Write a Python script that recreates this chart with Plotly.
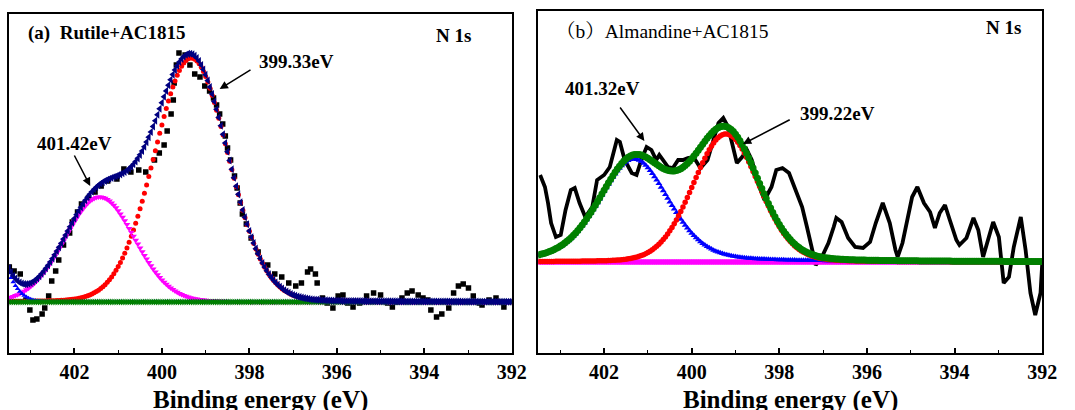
import numpy as np
import plotly.graph_objects as go

# ---------------- (a) Rutile + AC1815 : raw N 1s spectrum ----------------
rutile_energy = [
    403.49, 403.38, 403.24, 403.11, 403.02, 402.95, 402.86, 402.74, 402.68, 402.59,
    402.52, 402.43, 402.36, 402.25, 402.11, 402.05, 401.93, 401.84, 401.68, 401.53,
    401.39, 401.24, 401.03, 400.87, 400.71, 400.53, 400.37, 400.17, 400.06, 399.95,
    399.88, 399.79, 399.74, 399.72, 399.67, 399.61, 399.47, 399.36, 399.25, 399.13,
    399.02, 398.91, 398.82, 398.75, 398.68, 398.61, 398.55, 398.50, 398.43, 398.34,
    398.28, 398.21, 398.16, 398.07, 397.96, 397.80, 397.58, 397.42, 397.26, 397.10,
    396.94, 396.81, 396.67, 396.60, 396.49, 396.45, 396.33, 396.22, 396.09, 395.97,
    395.86, 395.75, 395.63, 395.48, 395.32, 395.16, 395.00, 394.84, 394.73, 394.62,
    394.51, 394.39, 394.28, 394.14, 394.03, 393.92, 393.85, 393.72, 393.60, 393.44,
    393.33, 393.22, 393.11, 392.99, 392.88, 392.74, 392.68, 392.52, 392.36, 392.25,
    392.18,
]
rutile_counts = [
    35, 31, 28, 2, -8, -18, -17, -12, -6, 6,
    21, 31, 42, 57, 69, 80, 90, 98, 104, 110,
    116, 121, 123, 133, 130, 132, 130, 142, 149, 157,
    171, 188, 202, 219, 237, 249, 247, 237, 228, 225,
    216, 211, 204, 197, 188, 178, 166, 154, 142, 126,
    114, 99, 88, 78, 64, 50, 37, 28, 25, 19,
    16, 19, 30, 33, 28, 19, 4, -1, -6, 6,
    7, -1, -5, -1, 6, 9, 7, -1, -5, 0,
    4, 9, 11, 7, 4, 2, -8, -15, -12, -6,
    9, 16, 18, 14, 6, -1, -3, 2, 4, 0,
    -5,
]

# fitted components (pseudo-Voigt): centre (eV), height, FWHM (eV), Lorentzian fraction
rutile_centers = [399.33, 401.42, 404.20]
rutile_heights = [244, 105, 97]
rutile_fwhm = [1.98, 1.88, 1.06]
rutile_eta = [0.05, 0.05, 0.0]

# ---------------- (b) Almandine + AC1815 : raw N 1s spectrum ----------------
alm_energy = [
    403.46, 403.35, 403.28, 403.21, 403.10, 402.99, 402.88, 402.76, 402.67, 402.56,
    402.43, 402.27, 402.16, 402.00, 401.87, 401.71, 401.64, 401.53, 401.37, 401.26,
    401.15, 401.03, 400.92, 400.81, 400.74, 400.65, 400.54, 400.43, 400.31, 400.20,
    400.09, 399.96, 399.80, 399.64, 399.51, 399.39, 399.28, 399.17, 399.08, 398.97,
    398.85, 398.74, 398.63, 398.49, 398.34, 398.18, 398.07, 397.93, 397.78, 397.62,
    397.48, 397.37, 397.26, 397.17, 397.03, 396.88, 396.76, 396.70, 396.58, 396.43,
    396.27, 396.09, 395.93, 395.80, 395.64, 395.48, 395.35, 395.30, 395.19, 395.08,
    394.97, 394.85, 394.70, 394.56, 394.45, 394.34, 394.22, 394.11, 393.96, 393.89,
    393.73, 393.57, 393.46, 393.35, 393.24, 393.12, 392.99, 392.88, 392.76, 392.65,
    392.49, 392.38, 392.27, 392.16, 392.04, 392.00,
]
alm_counts = [
    87, 75, 59, 39, 25, 27, 52, 72, 74, 59,
    45, 55, 82, 87, 95, 122, 120, 102, 89, 87,
    102, 115, 112, 102, 107, 102, 95, 94, 102, 102,
    104, 105, 94, 102, 122, 139, 144, 135, 119, 99,
    105, 112, 102, 79, 62, 75, 92, 94, 89, 72,
    55, 35, 12, -3, 5, 19, 35, 44, 40, 24,
    15, 14, 20, 39, 59, 39, 12, 5, 19, 42,
    65, 75, 59, 50, 34, 49, 57, 42, 22, 17,
    24, 44, 32, 5, 22, 40, 25, -21, -15, 15,
    45, 12, -31, -53, -31, -1,
]

alm_centers = [399.22, 401.32]
alm_heights = [128, 103]
alm_fwhm = [1.77, 1.88]
alm_eta = [0.10, 0.30]

# energy grid on which the fitted curves are evaluated
fit_energy = np.linspace(392.0, 403.5, 231)

tick_vals = [402, 400, 398, 396, 394, 392]
tick_text = ["402", "400", "398", "396", "394", "392"]


def pseudo_voigt(e, c, h, w, eta):
    g = np.exp(-4 * np.log(2) * (e - c) ** 2 / w ** 2)
    lz = 1.0 / (1.0 + 4 * (e - c) ** 2 / w ** 2)
    return h * ((1 - eta) * g + eta * lz)


ra = [pseudo_voigt(fit_energy, c, h, w, m)
      for c, h, w, m in zip(rutile_centers, rutile_heights, rutile_fwhm, rutile_eta)]
rutile_env = ra[0] + ra[1] + ra[2]
rutile_base = np.zeros_like(fit_energy)

al = [pseudo_voigt(fit_energy, c, h, w, m)
      for c, h, w, m in zip(alm_centers, alm_heights, alm_fwhm, alm_eta)]
alm_env = al[0] + al[1]
alm_base = np.zeros_like(fit_energy)

SERIF = "Times New Roman, Liberation Serif, Noto Serif CJK SC, Noto Sans CJK SC, serif"
W, H = 1075, 410

fig = go.Figure()

# ---- panel (a) ----
fig.add_trace(go.Scatter(x=rutile_energy, y=rutile_counts, mode="markers",
                         marker=dict(symbol="square", size=5.5, color="black"),
                         xaxis="x", yaxis="y"))
fig.add_trace(go.Scatter(x=fit_energy, y=ra[0], mode="markers",
                         marker=dict(symbol="circle", size=5, color="#FF0000"),
                         xaxis="x", yaxis="y"))
fig.add_trace(go.Scatter(x=fit_energy, y=ra[1], mode="markers",
                         marker=dict(symbol="triangle-down", size=6, color="#FF00FF"),
                         xaxis="x", yaxis="y"))
fig.add_trace(go.Scatter(x=fit_energy, y=ra[2], mode="markers",
                         marker=dict(symbol="triangle-up", size=5, color="#0000FF"),
                         xaxis="x", yaxis="y"))
fig.add_trace(go.Scatter(x=fit_energy, y=rutile_base, mode="markers",
                         marker=dict(symbol="triangle-right", size=6, color="#008000"),
                         xaxis="x", yaxis="y"))
fig.add_trace(go.Scatter(x=fit_energy, y=rutile_env, mode="markers",
                         marker=dict(symbol="triangle-left", size=7, color="#000080"),
                         xaxis="x", yaxis="y"))

# ---- panel (b) ----
fig.add_trace(go.Scatter(x=alm_energy, y=alm_counts, mode="lines",
                         line=dict(color="black", width=3.8),
                         xaxis="x2", yaxis="y2"))
fig.add_trace(go.Scatter(x=fit_energy, y=alm_base, mode="lines+markers",
                         line=dict(color="#FF00FF", width=4),
                         marker=dict(symbol="square", size=5, color="#FF00FF"),
                         xaxis="x2", yaxis="y2"))
fig.add_trace(go.Scatter(x=fit_energy, y=al[1], mode="markers",
                         marker=dict(symbol="triangle-up", size=6, color="#0000FF"),
                         xaxis="x2", yaxis="y2"))
fig.add_trace(go.Scatter(x=fit_energy, y=al[0], mode="markers",
                         marker=dict(symbol="circle", size=5.5, color="#FF0000"),
                         xaxis="x2", yaxis="y2"))
fig.add_trace(go.Scatter(x=fit_energy, y=alm_env, mode="markers",
                         marker=dict(symbol="circle", size=7, color="#008000"),
                         xaxis="x2", yaxis="y2"))

xcommon = dict(range=[403.5, 392.0], tickmode="array", tickvals=tick_vals, ticktext=tick_text,
               ticks="inside", ticklen=5, tickwidth=1.5, tickcolor="black",
               minor=dict(tickvals=[403, 401, 399, 397, 395, 393], ticks="inside",
                          ticklen=3, tickwidth=1.2, tickcolor="black"),
               showline=True, mirror=True, linecolor="black", linewidth=1.8,
               showgrid=False, zeroline=False,
               tickfont=dict(family=SERIF, size=20, color="black", weight="bold"))
ycommon = dict(showline=True, mirror=True, linecolor="black", linewidth=1.8,
               showgrid=False, zeroline=False, showticklabels=False, ticks="")

fig.update_layout(
    width=W, height=H, autosize=False,
    margin=dict(l=0, r=0, t=0, b=0),
    paper_bgcolor="white", plot_bgcolor="white",
    showlegend=False,
    xaxis=dict(domain=[9 / W, 519 / W], anchor="y", **xcommon),
    yaxis=dict(domain=[1 - 353 / H, 1 - 14 / H], anchor="x", range=[-51, 288], **ycommon),
    xaxis2=dict(domain=[546 / W, 1057 / W], anchor="y2", **xcommon),
    yaxis2=dict(domain=[1 - 353 / H, 1 - 11 / H], anchor="x2", range=[-91, 251], **ycommon),
)

bold19 = dict(family=SERIF, size=19, color="black", weight="bold")
reg19 = dict(family=SERIF, size=19.5, color="black")

texts = [
    ("x domain", "y domain", 0.035, 0.944, "left", "(a)  Rutile+AC1815", bold19),
    ("x domain", "y domain", 0.884, 0.938, "center", "N 1s", bold19),
    ("x domain", "y domain", 0.5725, 0.861, "center", "399.33eV", bold19),
    ("x domain", "y domain", 0.131, 0.619, "center", "401.42eV", bold19),
    ("x2 domain", "y2 domain", 0.031, 0.9415, "left", "（b）Almandine+AC1815", reg19),
    ("x2 domain", "y2 domain", 0.924, 0.953, "center", "N 1s", bold19),
    ("x2 domain", "y2 domain", 0.127, 0.772, "center", "401.32eV", bold19),
    ("x2 domain", "y2 domain", 0.593, 0.699, "center", "399.22eV", bold19),
]
for xr, yr, xx, yy, xa, t, f in texts:
    fig.add_annotation(xref=xr, yref=yr, x=xx, y=yy, xanchor=xa, yanchor="middle",
                       text=t, showarrow=False, font=f)

# arrows pointing at the fitted peak positions
arrows = [
    ("x", "y", 398.68, 213, 397.94, 233),
    ("x", "y", 401.64, 116, 402.02, 148),
    ("x2", "y2", 401.08, 121, 401.66, 156),
    ("x2", "y2", 398.83, 118, 397.73, 143),
]
for xr, yr, hx, hy, tx, ty in arrows:
    fig.add_annotation(xref=xr, yref=yr, x=hx, y=hy, axref=xr, ayref=yr, ax=tx, ay=ty,
                       text="", showarrow=True, arrowhead=2, arrowsize=1.1,
                       arrowwidth=1.5, arrowcolor="black", standoff=0)

title_font = dict(family=SERIF, size=25, color="black", weight="bold")
for xr in ["x domain", "x2 domain"]:
    fig.add_annotation(xref=xr, yref="paper", x=0.5, y=1 - 384 / H, xanchor="center",
                       yanchor="top", text="Binding energy (eV)", showarrow=False,
                       font=title_font)

fig.write_html("out.html")
